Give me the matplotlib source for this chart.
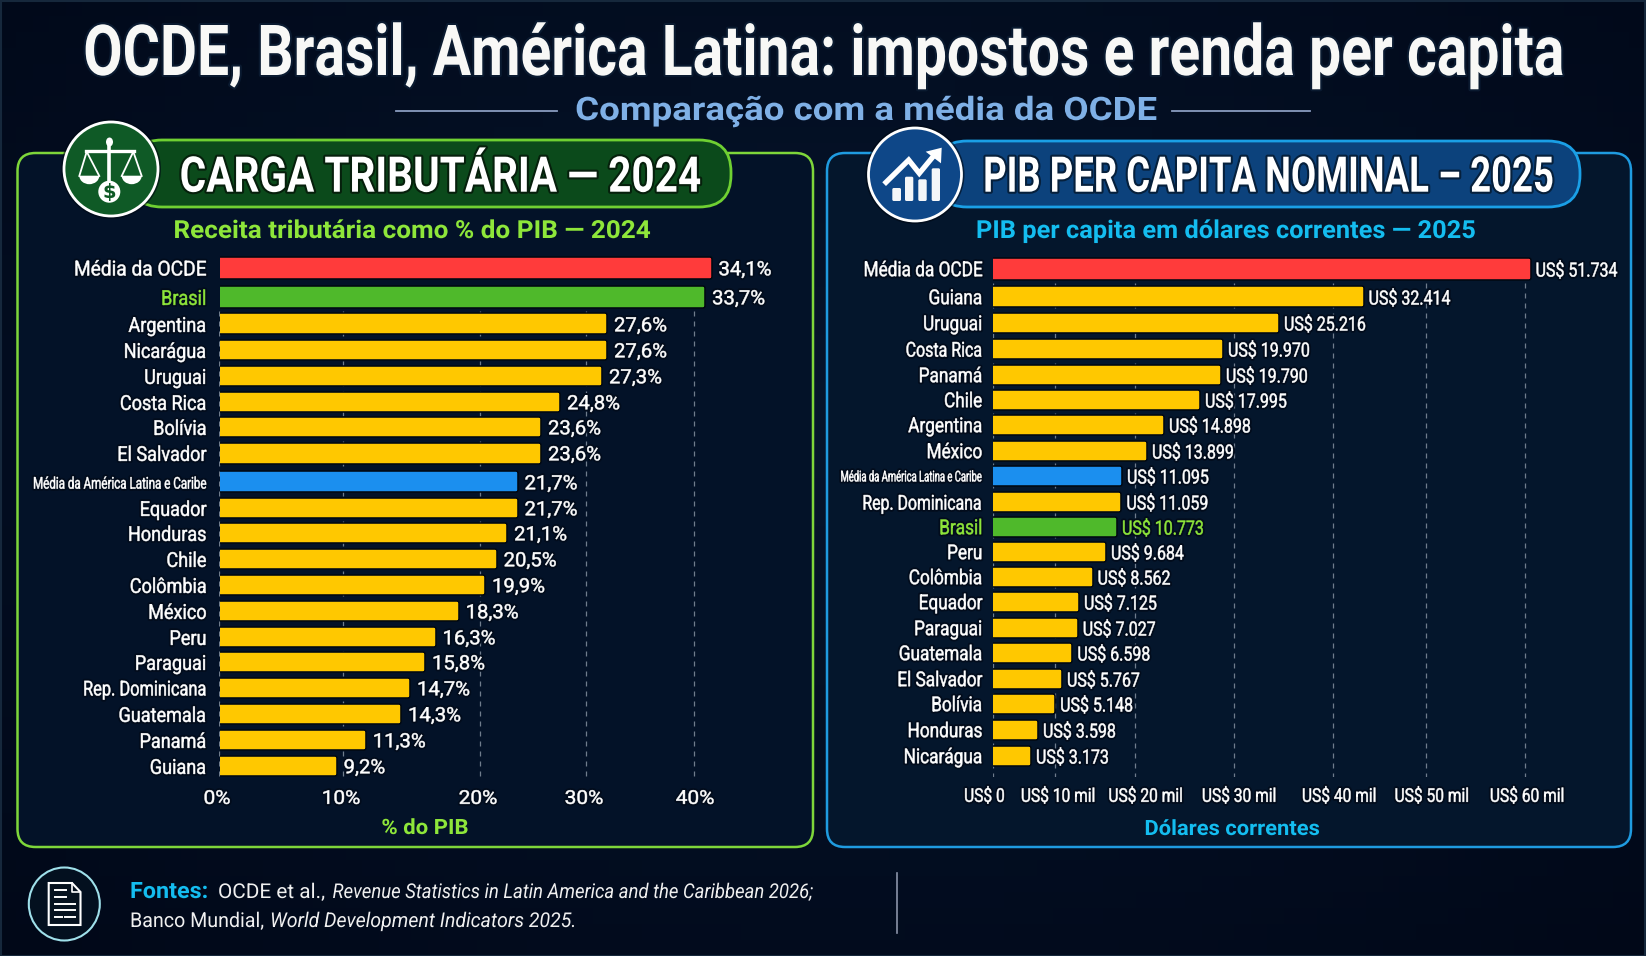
import numpy as np
import matplotlib
matplotlib.use("Agg")
import matplotlib.pyplot as plt
import matplotlib.patheffects as pe
from matplotlib.patches import FancyBboxPatch, Circle, Ellipse, Polygon, Rectangle, Wedge
from matplotlib.transforms import Affine2D

W, H = 1646, 956
plt.rcParams["font.family"] = ["Roboto", "DejaVu Sans"]

# -------------------- data --------------------
tax_countries = ["Média da OCDE", "Brasil", "Argentina", "Nicarágua", "Uruguai", "Costa Rica", "Bolívia",
                 "El Salvador", "Média da América Latina e Caribe", "Equador", "Honduras", "Chile", "Colômbia",
                 "México", "Peru", "Paraguai", "Rep. Dominicana", "Guatemala", "Panamá", "Guiana"]
tax_values = [34.1, 33.7, 27.6, 27.6, 27.3, 24.8, 23.6, 23.6, 21.7, 21.7, 21.1, 20.5, 19.9, 18.3, 16.3, 15.8,
              14.7, 14.3, 11.3, 9.2]
tax_ticks = [0, 10, 20, 30, 40]
tax_ticklabels = ["0%", "10%", "20%", "30%", "40%"]

gdp_countries = ["Média da OCDE", "Guiana", "Uruguai", "Costa Rica", "Panamá", "Chile", "Argentina", "México",
                 "Média da América Latina e Caribe", "Rep. Dominicana", "Brasil", "Peru", "Colômbia", "Equador",
                 "Paraguai", "Guatemala", "El Salvador", "Bolívia", "Honduras", "Nicarágua"]
gdp_values = [51734, 32414, 25216, 19970, 19790, 17995, 14898, 13899, 11095, 11059, 10773, 9684, 8562, 7125,
              7027, 6598, 5767, 5148, 3598, 3173]
gdp_ticks = [0, 10, 20, 30, 40, 50, 60]
gdp_ticklabels = ["US$ 0", "US$ 10 mil", "US$ 20 mil", "US$ 30 mil", "US$ 40 mil", "US$ 50 mil", "US$ 60 mil"]

# -------------------- layout (pixels) --------------------
tax_rows_px = [268, 297, 324, 350, 376, 402, 427, 453, 482, 508, 533, 559, 585, 611, 637, 662, 688, 714, 740, 766]
gdp_rows_px = [269, 297, 323, 349, 375, 400, 425, 451, 476, 502, 527, 552, 577, 602, 628, 653, 679, 704, 730, 756]

# the bars and the printed axis do not share one linear scale in the original
tax_bar_knots = ([0, 9.2, 11.3, 14.3, 14.7, 15.8, 16.3, 18.3, 19.9, 20.5, 21.7, 23.6, 24.8, 27.6, 34.1, 36],
                 [219.5, 334.6, 363.7, 399, 408, 423, 433.5, 456.6, 483, 494.6, 515.5, 539, 558, 605, 709.5, 736])
tax_tick_knots = ([0, 10, 20, 30, 40, 44], [219.5, 343, 480, 586, 694.5, 736])
gdp_bar_knots = ([0, 3173, 3598, 5767, 7125, 8562, 9684, 10773, 11095, 13899, 14898, 17995, 19970, 25216, 32414,
                  51734, 53000],
                 [993.4, 1029, 1036, 1060, 1077, 1090.6, 1104, 1115, 1120, 1145, 1162, 1198, 1221, 1277, 1361.6,
                  1528.6, 1537])
gdp_tick_knots = ([0, 10, 20, 30, 40, 50, 60, 62], [993.4, 1055.5, 1135, 1233.6, 1332.6, 1426.4, 1525.5, 1537])
tax_label_shift = [-2.5, -2, -2, -2, 0.5]
gdp_label_shift = [-9, 2.5, 10.6, 5.4, 6.4, 5.3, 1.5]
tax_name_sizes = {"Média da OCDE": 13.8, "Rep. Dominicana": 11.8}
gdp_name_sizes = {"Rep. Dominicana": 11.4, "Costa Rica": 11.5}

RED, GREEN, YELLOW, BLUE = "#ff3b3b", "#4fb92b", "#ffc800", "#1b8fef"
LIME, CYAN = "#8ee63a", "#14bdf0"
HALO_DARK = "#020c1c"
CAP = 0.711 * 100 / 72   # Roboto cap height in pixels per point


class Tall(pe.AbstractPathEffect):
    # the original uses a condensed face: stretch the glyphs upward, optional halo and extra weight
    def __init__(self, sy=1.0, mid=0.0, halo=None, halo_lw=3.0, weight=0.0):
        super().__init__()
        self.sy, self.mid, self.halo, self.halo_lw, self.weight = sy, mid, halo, halo_lw, weight

    def draw_path(self, renderer, gc, tpath, affine, rgbFace=None):
        base = affine.get_matrix()[1, 2] + self.mid
        t = affine + Affine2D().translate(0, -base).scale(1, self.sy).translate(0, base)
        if self.halo:
            gc0 = renderer.new_gc()
            gc0.copy_properties(gc)
            gc0.set_foreground(self.halo)
            gc0.set_linewidth(self.halo_lw)
            renderer.draw_path(gc0, tpath, t, rgbFace)
            gc0.restore()
        gc1 = renderer.new_gc()
        gc1.copy_properties(gc)
        gc1.set_foreground(rgbFace)
        gc1.set_linewidth(self.weight)
        renderer.draw_path(gc1, tpath, t, rgbFace)
        gc1.restore()


def tall_for(size, cap, centered=True, **kw):
    mid = 0.5 * CAP * size if centered else 0.0
    return [Tall(cap / (CAP * size), mid, **kw)]


fig = plt.figure(figsize=(W / 100, H / 100), dpi=100)
rend = fig.canvas.get_renderer()
deco = fig.add_axes([0, 0, 1, 1], zorder=0)
deco.set_xlim(0, W)
deco.set_ylim(H, 0)
deco.axis("off")

# background, darker to the edges
yy, xx = np.mgrid[0:1:60j, 0:1:100j]
glow = np.clip(1 - np.hypot((xx - 0.5) / 0.75, (yy - 0.45) / 0.75), 0, 1)[..., None]
bg = np.array([1, 8, 24]) / 255 + glow * np.array([5, 14, 22]) / 255
deco.imshow(bg, extent=(0, W, H, 0), aspect="auto", zorder=0)
deco.add_patch(Rectangle((0.5, 0.5), W - 1, H - 1, fill=False, ec="#16283c", lw=1.5, zorder=1))


def fitted(x, baseline, s, width, cap, color, ha="center", halo=None, halo_lw=3.0, weight=0.0, **kw):
    t = deco.text(x, baseline, s, color=color, fontsize=20, ha=ha, va="baseline", zorder=6, **kw)
    size = 20 * width / t.get_window_extent(rend).width
    t.set_fontsize(size)
    t.set_path_effects(tall_for(size, cap, centered=False, halo=halo, halo_lw=halo_lw, weight=weight))
    return t


def panel(x0, x1, y0, y1, edge, fill):
    deco.add_patch(FancyBboxPatch((x0, y0), x1 - x0, y1 - y0, boxstyle="round,pad=0,rounding_size=18",
                                  fc=fill, ec=edge, lw=1.8, zorder=2))


def banner(x0, x1, y0, y1, edge, fill):
    deco.add_patch(FancyBboxPatch((x0, y0), x1 - x0, y1 - y0, boxstyle="round,pad=0,rounding_size=32",
                                  fc=fill, ec=edge, lw=2, zorder=3))


def badge(cx, cy, r, fill):
    deco.add_patch(Circle((cx, cy), r + 3, fc="#000814", ec="none", alpha=0.6, zorder=4))
    deco.add_patch(Circle((cx, cy), r, fc=fill, ec="white", lw=2, zorder=4))


def piecewise(ax, which, knots):
    vals, pix = knots
    funcs = (lambda v: np.interp(v, vals, pix), lambda p: np.interp(p, pix, vals))
    if which == "x":
        ax.set_xscale("function", functions=funcs)
        ax.set_xlim(vals[0], vals[-1])
    else:
        ax.set_yscale("function", functions=funcs)
    return funcs


def chart(names, values, rows_px, bar_knots, tick_knots, ticks, ticklabels, shifts, colors, fmt, pad,
          name_size, name_sizes, small_size, small_cap, value_size, tick_size, tick_pad, grid_from, lime_value,
          name_pad):
    x0, x1 = bar_knots[1][0], bar_knots[1][-1]
    top, bottom = 252, 777
    ax = fig.add_axes([x0 / W, 1 - bottom / H, (x1 - x0) / W, (bottom - top) / H], zorder=3)
    ax.patch.set_visible(False)
    ranks = list(range(len(names)))
    row_knots = ([-2] + ranks + [len(names) + 1],
                 [rows_px[0] - 56] + rows_px + [rows_px[-1] + 52])
    _, to_rank = piecewise(ax, "y", row_knots)
    rank_top, rank_bottom = float(to_rank(top)), float(to_rank(bottom))
    ax.set_ylim(rank_bottom, rank_top)
    piecewise(ax, "x", bar_knots)

    bars = ax.barh(ranks, values, height=0.64, color=colors, edgecolor=colors, linewidth=1.6, joinstyle="round",
                   zorder=3)
    for b in bars:
        b.set_path_effects([pe.withStroke(linewidth=4, foreground="#010812"), pe.Normal()])

    for r, v, name in zip(ranks, values, names):
        c = LIME if (name == "Brasil" and lime_value) else "white"
        ax.annotate(fmt(v), (v, r), xytext=(pad, 0), textcoords="offset pixels", va="center_baseline", ha="left",
                    color=c, fontsize=value_size, annotation_clip=False, zorder=5,
                    path_effects=tall_for(value_size, 14, halo=HALO_DARK, weight=0.35))

    ax.set_yticks(ranks, names)
    ax.tick_params(axis="y", length=0, pad=name_pad)
    for lab, name in zip(ax.get_yticklabels(), names):
        small = name.startswith("Média da Am")
        size = small_size if small else name_sizes.get(name, name_size)
        lab.set_fontsize(size)
        lab.set_color(LIME if name == "Brasil" else "white")
        lab.set_path_effects(tall_for(size, small_cap if small else 14.6, halo=HALO_DARK, weight=0.35))
    ax.set_xticks([])
    for s in ax.spines.values():
        s.set_visible(False)

    # printed axis with its dashed lines, behind the bars
    ax2 = ax.twiny()
    ax2.set_zorder(2)
    ax2.patch.set_visible(False)
    piecewise(ax2, "x", tick_knots)
    ax2.vlines(ticks, grid_from, rank_bottom, colors="#6f7c8c", linestyles=(0, (4, 4)), lw=0.9, zorder=1)
    ax2.set_xticks(ticks, ticklabels)
    ax2.xaxis.set_ticks_position("bottom")
    ax2.tick_params(axis="x", length=0, pad=tick_pad, colors="white", labelsize=tick_size)
    for lab, dx in zip(ax2.get_xticklabels(), shifts):
        lab.set_transform(lab.get_transform() + Affine2D().translate(dx, 0))
        lab.set_path_effects(tall_for(tick_size, 13.5, halo=HALO_DARK, weight=0.35))
    for s in ax2.spines.values():
        s.set_visible(False)
    return ax


# -------------------- panels --------------------
panel(17.5, 813, 153, 847, "#7ed63a", "#031228")
panel(827, 1631, 153, 847, "#1f9be0", "#04162c")
banner(130, 731, 140, 207, "#6fd032", "#0b4a1b")
banner(935, 1580, 141, 207, "#1a9fe6", "#0c427c")
badge(111, 169, 47, "#0f5a26")
badge(915, 174.5, 46.5, "#0e4788")

# scales icon
wh = dict(color="white", zorder=5)
deco.plot([109.3, 109.3], [140, 190], lw=2.6, solid_capstyle="round", **wh)
deco.plot([86, 134], [150.7, 150.7], lw=2.4, **wh)
deco.add_patch(Ellipse((109.5, 142), 7, 9, fc="white", zorder=5))
for apex, half in [(86.7, 10), (133.3, 10)]:
    cx = apex + (2.6 if apex < 100 else -1.6)
    deco.plot([cx - half, apex, cx + half], [176, 151.7, 176], lw=1.3, **wh)
    deco.add_patch(Wedge((cx, 175.7), half, 0, 180, fc="white", ec="none", zorder=5,
                         transform=Affine2D().scale(1, 0.85).translate(0, 175.7 * 0.15) + deco.transData))
deco.add_patch(Circle((109.3, 191.7), 11, fc="white", zorder=5))
deco.text(109.3, 192, "$", fontsize=14, fontweight="bold", color="#0f5a26", ha="center", va="center",
          family="DejaVu Sans", zorder=6)

# rising bars icon
for xa, xb, yt in [(892.3, 901, 188), (905, 913.3, 176.7), (918.3, 926.7, 179.3), (931.7, 940, 168.3)]:
    deco.add_patch(FancyBboxPatch((xa, yt), xb - xa, 201 - yt, boxstyle="round,pad=0,rounding_size=1.5",
                                  fc="#f4f6f8", ec="none", zorder=5))
deco.plot([886, 908.7, 919.3, 934], [182.3, 160, 173.3, 155.5], lw=3.8, solid_joinstyle="miter", **wh)
deco.add_patch(Polygon([(941.7, 147.7), (925.7, 151.7), (941, 163.3)], fc="white", zorder=5))

# -------------------- text --------------------
fitted(824, 75, "OCDE, Brasil, América Latina: impostos e renda per capita", 1476, 50, "#f8f8f6", fontweight="bold",
       halo="#0a1a30", halo_lw=3)
fitted(866, 120, "Comparação com a média da OCDE", 579.6, 23, "#7fb0e6", fontweight="bold")
deco.plot([396, 557], [111, 111], color="#8a9cc0", lw=1.3, zorder=6)
deco.plot([1172, 1310], [111, 111], color="#8a9cc0", lw=1.3, zorder=6)

fitted(440, 191.7, "CARGA TRIBUTÁRIA — 2024", 520, 35, "white", fontweight="bold", halo="#06200c")
fitted(1269, 191.7, "PIB PER CAPITA NOMINAL – 2025", 569, 35, "white", fontweight="bold", halo="#06203c")
fitted(412, 238, "Receita tributária como % do PIB — 2024", 476, 17.7, LIME, fontweight="bold")
fitted(1226, 238, "PIB per capita em dólares correntes — 2025", 498.5, 17.7, CYAN, fontweight="bold")
fitted(425, 834, "% do PIB", 87, 15, LIME, fontweight="bold")
fitted(1232, 835, "Dólares correntes", 175, 15, CYAN, fontweight="bold")

# -------------------- charts --------------------
tax_colors = [RED, GREEN] + [YELLOW] * 6 + [BLUE] + [YELLOW] * 11
gdp_colors = [RED] + [YELLOW] * 7 + [BLUE, YELLOW, GREEN] + [YELLOW] * 9
chart(tax_countries, tax_values, tax_rows_px, tax_bar_knots, tax_tick_knots, tax_ticks, tax_ticklabels,
      tax_label_shift, tax_colors, lambda v: f"{v:.1f}%".replace(".", ","), 9,
      13, tax_name_sizes, 8.35, 11.5, 14.6, 15, 9, 1.5, False, 9.5)
chart(gdp_countries, gdp_values, gdp_rows_px, gdp_bar_knots, gdp_tick_knots, gdp_ticks, gdp_ticklabels,
      gdp_label_shift, gdp_colors, lambda v: f"US$ {v:,}".replace(",", "."), 7,
      12.4, gdp_name_sizes, 6.8, 10.5, 11.5, 11.2, 8, 0.5, True, 8)

# -------------------- sources --------------------
deco.add_patch(Ellipse((64.3, 904), 71, 73, fc="#03101f", ec="#9fe0ea", lw=1.5, zorder=3))
deco.add_patch(Polygon([(48.7, 883), (72, 883), (80.5, 892), (80.5, 925), (48.7, 925)], fc="#06121f", ec="white",
                       lw=1.5, zorder=4))
deco.plot([72, 72, 80.5], [883, 892, 892], color="white", lw=1.2, zorder=4)
for ya, xa, xb in [(890, 55, 66), (897, 55, 66), (904, 55, 75), (910, 55, 75), (917, 55, 62), (917, 65, 75)]:
    deco.plot([xa, xb], [ya, ya], color="white", lw=1.4, zorder=4)
TXT = "#f0f0f0"
fitted(130, 898, "Fontes:", 78, 16, CYAN, ha="left", fontweight="bold")
fitted(218, 898, "OCDE et al.,", 107, 14.5, TXT, ha="left")
fitted(332.5, 898, "Revenue Statistics in Latin America and the Caribbean 2026;", 480, 14.5, TXT, ha="left",
       style="italic")
fitted(130, 927, "Banco Mundial,", 134, 14.5, TXT, ha="left")
fitted(270, 927, "World Development Indicators 2025.", 306, 14.5, TXT, ha="left", style="italic")
deco.plot([897, 897], [873, 933], color="#8a93a8", lw=1.2, zorder=6)

fig.savefig("out.png", dpi=100)
